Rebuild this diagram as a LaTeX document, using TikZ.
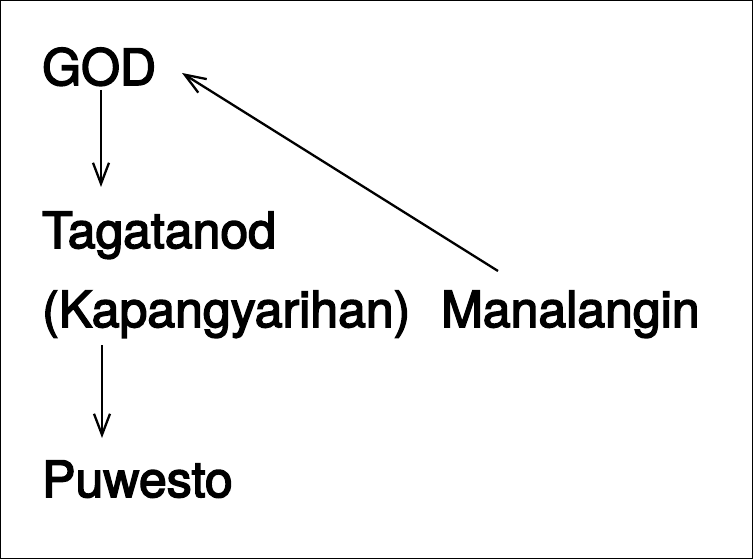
\documentclass[tikz,border=0pt]{standalone}
\usepackage{fontspec}
\setmainfont[FakeBold=3,FakeStretch=1.0]{TeX Gyre Heros}
\usetikzlibrary{arrows.meta}
\begin{document}
\begin{tikzpicture}[x=1pt,y=-1pt,
  lbl/.style={anchor=base west,inner sep=0pt,font=\fontsize{50}{58}\selectfont},
  arr/.style={line width=2.3pt,-{Straight Barb[length=21pt,width=16pt,line width=2.3pt]}}]
\useasboundingbox (0,0) rectangle (753,559);
\draw[line width=1pt] (0.5,0.5) rectangle (752.5,558.5);
\node[lbl] (god) at (42,85) {GOD};
\node[lbl] (taga) at (42,248) {Tagatanod};
\node[lbl] (kap) at (42,327) {(Kapangyarihan)};
\node[lbl] (man) at (441,327) {Manalangin};
\node[lbl] (puw) at (42,497) {Puwesto};
\draw[arr] ([xshift=59pt,yshift=-5pt]god.base west) -- ([xshift=59pt,yshift=61pt]taga.base west);
\draw[arr] ([xshift=60pt,yshift=-18pt]kap.base west) -- ([xshift=60pt,yshift=59pt]puw.base west);
\draw[arr] ([xshift=57pt,yshift=56pt]man.base west) -- ([xshift=140pt,yshift=12pt]god.base west);
\end{tikzpicture}
\end{document}
